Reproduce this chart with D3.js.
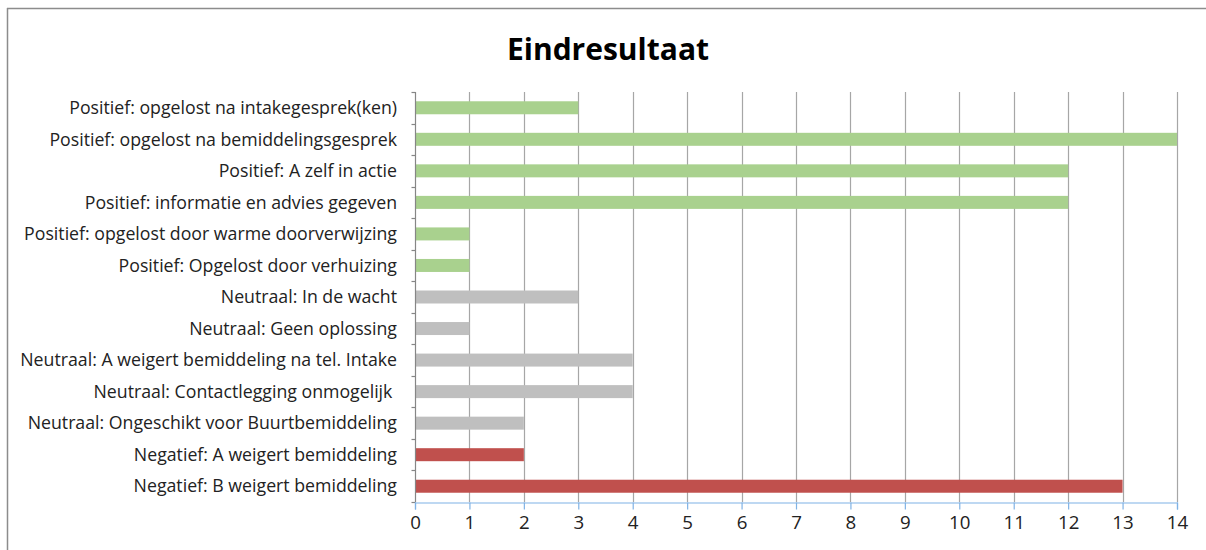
<!DOCTYPE html>
<html>
<head>
<meta charset="utf-8">
<script src="https://cdn.jsdelivr.net/npm/d3@7"></script>
<style>
  html, body { margin: 0; padding: 0; background: #fff; }
  svg { display: block; }
  text { font-family: "Open Sans", "Noto Sans", sans-serif; fill: #222; }
</style>
</head>
<body>
<svg id="chart" width="1206" height="550"></svg>
<script>
const categories = [
  "Positief: opgelost na intakegesprek(ken)",
  "Positief: opgelost na bemiddelingsgesprek",
  "Positief: A zelf in actie",
  "Positief: informatie en advies gegeven",
  "Positief: opgelost door warme doorverwijzing",
  "Positief: Opgelost door verhuizing",
  "Neutraal: In de wacht",
  "Neutraal: Geen oplossing",
  "Neutraal: A weigert bemiddeling na tel. Intake",
  "Neutraal: Contactlegging onmogelijk ",
  "Neutraal: Ongeschikt voor Buurtbemiddeling",
  "Negatief: A weigert bemiddeling",
  "Negatief: B weigert bemiddeling"
];
const values = [3, 14, 12, 12, 1, 1, 3, 1, 4, 4, 2, 2, 13];
const groups = ["pos","pos","pos","pos","pos","pos","neu","neu","neu","neu","neu","neg","neg"];
const tickValues = [0,1,2,3,4,5,6,7,8,9,10,11,12,13,14];
const title = "Eindresultaat";

const colorOf = { pos: "#a9d18e", neu: "#bfbfbf", neg: "#c0504d" };

const svg = d3.select("#chart");

// frame
svg.append("line").attr("x1", 7).attr("x2", 1206).attr("y1", 8.5).attr("y2", 8.5)
  .attr("stroke", "#8c8c8c").attr("stroke-width", 1.5);
svg.append("line").attr("x1", 7.5).attr("x2", 7.5).attr("y1", 8).attr("y2", 550)
  .attr("stroke", "#8c8c8c").attr("stroke-width", 1.5);

const pLeft = 415, pRight = 1177, pTop = 92, pBottom = 502;

const x = d3.scaleLinear().domain([0, 14]).range([pLeft, pRight]);
const yb = d3.scaleBand().domain(categories).range([pTop, pBottom]);

// title
svg.append("text").attr("x", 608).attr("y", 60).attr("text-anchor", "middle")
  .style("font-size", "30px").style("font-weight", "bold").style("fill", "#000")
  .text(title);

// gridlines
svg.append("g").selectAll("line").data(tickValues.filter(d => d > 0)).join("line")
  .attr("x1", d => Math.round(x(d)) + 0.5).attr("x2", d => Math.round(x(d)) + 0.5)
  .attr("y1", pTop).attr("y2", pBottom)
  .attr("stroke", "#a6a6a6").attr("stroke-width", 1.2);

// bars
svg.append("g").selectAll("rect").data(categories).join("rect")
  .attr("x", x(0))
  .attr("y", d => yb(d) + yb.bandwidth() / 2 - 6.5)
  .attr("width", (d, i) => x(values[i]) - x(0))
  .attr("height", 13)
  .attr("fill", (d, i) => colorOf[groups[i]]);

// y axis
const yAxisG = svg.append("g").attr("transform", `translate(${pLeft + 0.5},0)`);
yAxisG.append("line").attr("x1", 0).attr("x2", 0).attr("y1", pTop).attr("y2", pBottom)
  .attr("stroke", "#868686").attr("stroke-width", 1.2);
const boundaries = categories.map(c => yb(c)).concat([pBottom]);
yAxisG.selectAll("line.tk").data(boundaries).join("line").attr("class", "tk")
  .attr("x1", -4).attr("x2", 0).attr("y1", d => Math.round(d) + 0.5).attr("y2", d => Math.round(d) + 0.5)
  .attr("stroke", "#868686").attr("stroke-width", 1.2);

// y labels
const labels = svg.append("g").selectAll("text").data(categories).join("text")
  .attr("x", 397).attr("y", d => yb(d) + yb.bandwidth() / 2)
  .attr("dy", "0.35em").attr("text-anchor", "end")
  .style("font-size", "16px")
  .style("white-space", "pre")
  .text(d => d);
let maxW = 0;
labels.each(function() { maxW = Math.max(maxW, this.getComputedTextLength()); });
const fs = 16 * 377 / maxW;
labels.style("font-size", fs + "px");

// x axis
const xAxis = d3.axisBottom(x).tickValues(tickValues).tickSize(7).tickPadding(6).tickFormat(d3.format("d"));
const xg = svg.append("g").attr("transform", `translate(0,${pBottom + 0.5})`).call(xAxis);
xg.select(".domain").attr("stroke", "#7fb2e5").attr("stroke-width", 1.2);
xg.selectAll(".tick line").attr("stroke", "#7fb2e5").attr("stroke-width", 1.2);
xg.selectAll(".tick text").style("font-size", (fs + 1) + "px").style("font-family", "'Open Sans', 'Noto Sans', sans-serif").attr("fill", "#222");
</script>
</body>
</html>
